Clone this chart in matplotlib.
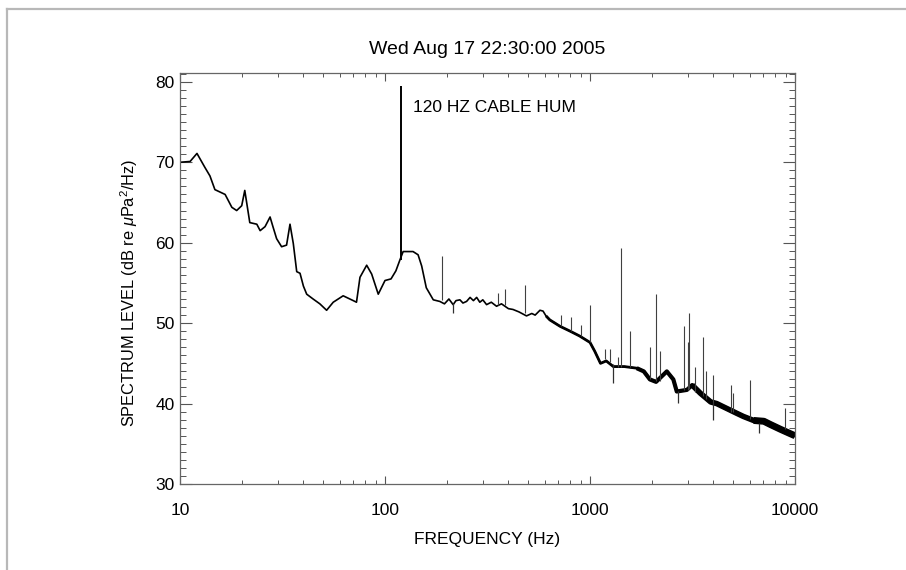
import matplotlib
matplotlib.use('Agg')
import matplotlib.pyplot as plt
import numpy as np
from matplotlib.lines import Line2D

plt.rcParams['font.family'] = ['Liberation Sans', 'DejaVu Sans']
plt.rcParams['mathtext.fontset'] = 'custom'
plt.rcParams['mathtext.rm'] = 'Liberation Sans'
plt.rcParams['mathtext.it'] = 'Liberation Sans:italic'

# smooth part of the spectrum (Hz, dB)
freq_hz = [10, 11.2, 12.1, 13.2, 14.0, 14.8, 16.6, 17.9, 18.9, 20.0, 20.7, 21.9, 23.7,
           24.6, 26.0, 27.5, 28.4, 29.6, 31.3, 33.1, 34.4, 35.7, 37.1, 38.5, 40.0, 41.5,
           44.6, 48.1, 51.9, 55.9, 62.5, 70.0, 72.6, 75.5, 81.4, 86.1, 92.7, 100, 107,
           113, 118, 122.6, 137, 145, 151, 159, 172, 185, 195, 205, 215, 222, 232, 240,
           250, 260, 270, 280, 290, 300, 313, 330, 350, 370, 400, 421, 450, 490, 520, 540,
           570, 590, 610, 637, 715, 800, 890, 1000, 1055, 1125, 1200, 1300, 1470, 1690,
           1830, 1960, 2100, 2370, 2550, 2650, 2970, 3150, 3450, 3880, 4150, 4470, 5190,
           5600, 6280, 7050, 7580, 8500, 9400, 10000]
level_db = [70.0, 70.1, 71.1, 69.4, 68.3, 66.6, 66.0, 64.4, 64.0, 64.6, 66.5, 62.5, 62.3,
            61.5, 62.0, 63.2, 62.0, 60.5, 59.5, 59.7, 62.3, 59.9, 56.4, 56.2, 54.6, 53.6,
            53.0, 52.4, 51.6, 52.6, 53.4, 52.8, 52.6, 55.7, 57.2, 56.1, 53.6, 55.3, 55.5,
            56.5, 57.8, 58.9, 58.9, 58.5, 57.1, 54.4, 52.9, 52.7, 52.4, 53.0, 52.3, 52.8,
            52.9, 52.5, 52.7, 53.2, 52.8, 53.2, 52.6, 52.9, 52.3, 52.6, 52.1, 52.4, 51.8,
            51.7, 51.4, 50.9, 51.2, 51.0, 51.6, 51.5, 50.9, 50.4, 49.6, 49.0, 48.4, 47.6,
            46.5, 45.0, 45.3, 44.6, 44.6, 44.4, 44.0, 43.0, 42.7, 44.0, 43.0, 41.5, 41.7,
            42.3, 41.3, 40.2, 40.0, 39.6, 38.8, 38.4, 37.9, 37.8, 37.4, 36.8, 36.3, 36.0]

# narrow tonal lines: frequency, base level, top level
spike_hz = [120, 190, 355, 385, 480, 720, 810, 900, 1005, 1180, 1250, 1370, 1420, 1570,
            1970, 2110, 2200, 2860, 3000, 3050, 3250, 3560, 3690, 3970, 4900, 4990, 6000,
            8900]
spike_base = [57.8, 52.9, 52.3, 52.2, 51.2, 49.6, 49.0, 48.4, 47.6, 45.5, 45.2, 44.6, 44.6,
              44.5, 43.0, 42.8, 42.8, 41.7, 41.7, 41.8, 41.4, 41.0, 40.6, 40.1, 39.0, 38.9,
              38.1, 36.8]
spike_top = [79.5, 58.3, 53.8, 54.3, 54.8, 51.0, 50.8, 49.8, 52.3, 46.8, 46.8, 45.8, 59.3,
             49.0, 47.0, 53.6, 46.5, 49.6, 47.7, 51.2, 44.6, 48.3, 44.0, 43.6, 42.3, 41.3,
             42.9, 39.5]

# downward dropouts
dip_hz = [215, 1290, 2680, 3960, 6660]
dip_base = [52.5, 44.9, 41.6, 40.2, 37.6]
dip_low = [51.2, 42.6, 40.1, 37.9, 36.3]

fig = plt.figure(figsize=(9.06, 5.70), dpi=100)
ax = fig.add_axes([180/906, 86/570, 615/906, 411/570])

f = np.array(freq_hz)
lv = np.array(level_db)
ax.plot(f, lv, color='black', lw=1.2)
# the trace gets fuzzier (thicker) towards high frequency
for fmin, w in [(600, 2.0), (1500, 3.0), (3000, 4.0), (6000, 5.0)]:
    m = f >= fmin
    ax.plot(f[m], lv[m], color='black', lw=w, solid_capstyle='butt')
ax.vlines(spike_hz[1:], spike_base[1:], spike_top[1:], color='#404040', lw=0.8)
ax.vlines(spike_hz[:1], spike_base[:1], spike_top[:1], color='black', lw=1.4)
ax.vlines(dip_hz, dip_base, dip_low, color='#303030', lw=0.9)

ax.set_xscale('log')
ax.set_xlim(10, 10000)
ax.set_ylim(30, 81.1)
ax.set_yticks([30, 40, 50, 60, 70, 80])
ax.set_xticks([10, 100, 1000, 10000])
ax.set_xticklabels(['10', '100', '1000', '10000'])
ax.yaxis.set_minor_locator(matplotlib.ticker.MultipleLocator(1))
ax.xaxis.set_minor_locator(matplotlib.ticker.LogLocator(base=10, subs=np.arange(2, 10)))
ax.xaxis.set_minor_formatter(matplotlib.ticker.NullFormatter())

ax.tick_params(axis='both', which='both', direction='in', top=True, right=True,
               color='#555555', labelsize=12.5)
ax.tick_params(axis='y', which='major', length=8.9, width=0.8, pad=4)
ax.tick_params(axis='y', which='minor', length=4.4, width=0.7)
ax.tick_params(axis='x', which='major', length=5.9, width=0.8, pad=14)
ax.tick_params(axis='x', which='minor', length=3.0, width=0.7)
for s in ax.spines.values():
    s.set_linewidth(0.9)
    s.set_color('#666666')

ax.set_title('Wed Aug 17 22:30:00 2005', fontsize=14, pad=14)
ax.set_xlabel('FREQUENCY (Hz)', fontsize=12.5, labelpad=10)
ax.set_ylabel(r'SPECTRUM LEVEL (dB re $\mu$Pa$^2$/Hz)', fontsize=11.8)
ax.yaxis.set_label_coords(-40/615, 0.465)
ax.text(137, 76.8, '120 HZ CABLE HUM', fontsize=12.5, va='center', ha='left')

# page border
fig.add_artist(Line2D([7/906, 1], [1 - 9/570, 1 - 9/570], color='#b8b8b8', lw=1.6))
fig.add_artist(Line2D([7/906, 7/906], [0, 1 - 9/570], color='#b8b8b8', lw=1.6))

fig.savefig('out.png', dpi=100)
